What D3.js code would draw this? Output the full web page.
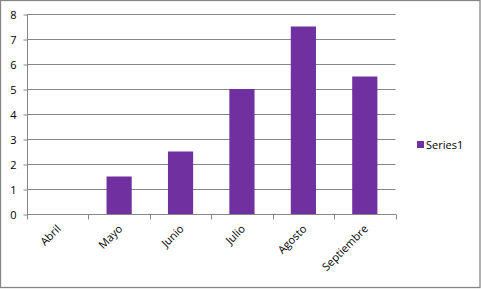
<!DOCTYPE html>
<html><head><meta charset="utf-8">
<script src="https://cdn.jsdelivr.net/npm/d3@7"></script>
<style>html,body{margin:0;padding:0;background:#fff;}svg{display:block;}</style>
</head><body>
<svg id="c" width="481" height="289"></svg>
<script>
const categories = ["Abril","Mayo","Junio","Julio","Agosto","Septiembre"];
const values = [0, 1.5, 2.5, 5, 7.5, 5.5];
const yTicks = [0,1,2,3,4,5,6,7,8];
const seriesName = "Series1";

const svg = d3.select("#c");
const m = {left: 27, top: 14, right: 395.5, bottom: 214};
const font = "'Open Sans', 'Liberation Sans', sans-serif";
const grey = "#868686";
const purple = "#7030A0";

svg.append("rect").attr("x",0.5).attr("y",0.5).attr("width",479.5).attr("height",287)
  .attr("fill","#fff").attr("stroke",grey).attr("stroke-width",1.3);

const x = d3.scaleBand().domain(categories).range([m.left, m.right]).paddingInner(0.59).paddingOuter(0.295);
const xb = d3.scaleBand().domain(categories).range([m.left, m.right]);
const y = d3.scaleLinear().domain([0,8]).range([m.bottom, m.top]);

// gridlines
svg.append("g").selectAll("line").data(yTicks.filter(d=>d>0)).join("line")
  .attr("x1", m.left).attr("x2", m.right)
  .attr("y1", d=>Math.round(y(d))+0.5).attr("y2", d=>Math.round(y(d))+0.5)
  .attr("stroke", grey).attr("stroke-width",1);

// bars
svg.append("g").selectAll("rect").data(values).join("rect")
  .attr("x",(d,i)=>x(categories[i]))
  .attr("width", x.bandwidth())
  .attr("y", d=>y(d)).attr("height", d=>y(0)-y(d))
  .attr("fill", purple);

// y axis
const yAxis = d3.axisLeft(y).tickValues(yTicks).tickSize(4).tickPadding(7).tickFormat(d3.format("d"));
const gy = svg.append("g").attr("transform",`translate(${m.left+0.5},0.5)`).call(yAxis);
gy.select(".domain").attr("stroke",grey).attr("d",`M0,${m.top-0.5}V${m.bottom}`);
gy.selectAll(".tick line").attr("stroke",grey);
gy.selectAll(".tick text").attr("font-family",font).attr("font-size","11px").attr("fill","#000");

// x axis
const gx = svg.append("g").attr("transform",`translate(0,${m.bottom+0.5})`);
gx.append("line").attr("x1",m.left).attr("x2",m.right+0.5).attr("y1",0).attr("y2",0).attr("stroke",grey);
const edges = categories.map(c=>xb(c)).concat([m.right]);
gx.selectAll("line.t").data(edges).join("line").attr("class","t")
  .attr("x1",d=>Math.round(d)+0.5).attr("x2",d=>Math.round(d)+0.5).attr("y1",0).attr("y2",5)
  .attr("stroke",grey);
gx.selectAll("text").data(categories).join("text")
  .attr("transform", d=>`translate(${xb(d)+xb.bandwidth()/2+4},${15}) rotate(-45)`)
  .attr("text-anchor","end").attr("font-family",font).attr("font-size","11px").attr("fill","#000")
  .text(d=>d);

// legend
svg.append("rect").attr("x",417).attr("y",141).attr("width",7).attr("height",7).attr("fill",purple);
svg.append("text").attr("x",426).attr("y",148.5).attr("font-family",font).attr("font-size","11px")
  .attr("fill","#000").text(seriesName);
</script>
</body></html>
